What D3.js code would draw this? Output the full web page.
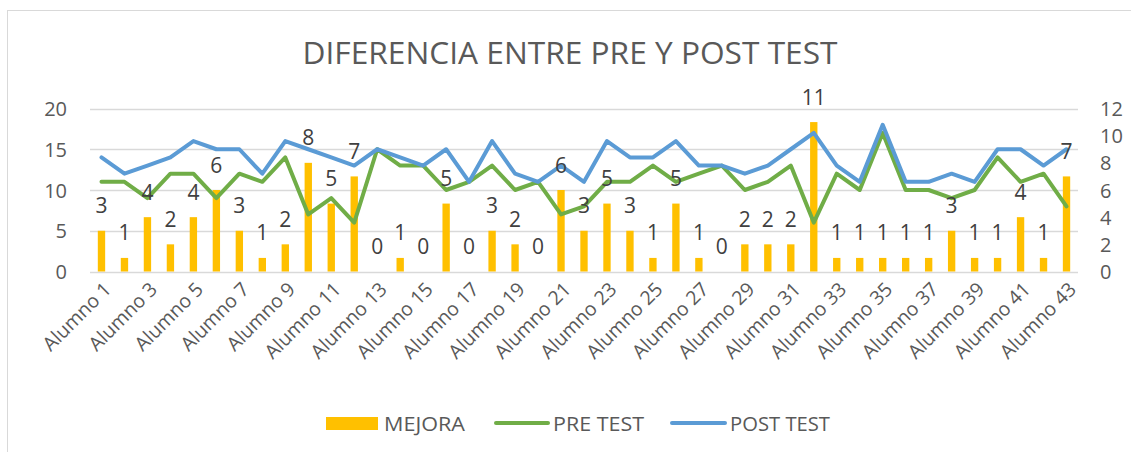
<!DOCTYPE html>
<html>
<head>
<meta charset="utf-8">
<script src="https://cdn.jsdelivr.net/npm/d3@7"></script>
<style>
  body { margin: 0; background: #fff; }
  text { font-family: "Open Sans", "Noto Sans", sans-serif; }
</style>
</head>
<body>
<div id="chart"></div>
<script>
// data
const alumnos = d3.range(1, 44).map(i => "Alumno " + i);
const mejora = [3,1,4,2,4,6,3,1,2,8,5,7,0,1,0,5,0,3,2,0,6,3,5,3,1,5,1,0,2,2,2,11,1,1,1,1,1,3,1,1,4,1,7];
const preTest = [11,11,9,12,12,9,12,11,14,7,9,6,15,13,13,10,11,13,10,11,7,8,11,11,13,11,12,13,10,11,13,6,12,10,17,10,10,9,10,14,11,12,8];
const postTest = [14,12,13,14,16,15,15,12,16,15,14,13,15,14,13,15,11,16,12,11,13,11,16,14,14,16,13,13,12,13,15,17,13,11,18,11,11,12,11,15,15,13,15];
const leftTicks = [0, 5, 10, 15, 20];
const rightTicks = [0, 2, 4, 6, 8, 10, 12];
const title = "DIFERENCIA ENTRE PRE Y POST TEST";

const W = 1131, H = 452;
const plot = { left: 90, right: 1078, top: 108.5, bottom: 271.5 };

const svg = d3.select("#chart").append("svg")
  .attr("width", W)
  .attr("height", H);

svg.append("rect").attr("width", W).attr("height", H).attr("fill", "#fff");

// outer chart border (only top and left visible)
svg.append("rect")
  .attr("x", 7.5).attr("y", 10.5)
  .attr("width", W + 20).attr("height", H + 20)
  .attr("fill", "none")
  .attr("stroke", "#d9d9d9");

// scales
const x = d3.scaleBand()
  .domain(alumnos)
  .range([plot.left, plot.right])
  .paddingInner(0.68)
  .paddingOuter(0.34);
const cx = d => x(d) + x.bandwidth() / 2;

const yL = d3.scaleLinear().domain([0, 20]).range([plot.bottom, plot.top]);
const yR = d3.scaleLinear().domain([0, 12]).range([plot.bottom, plot.top]);

// gridlines
svg.append("g")
  .selectAll("line")
  .data(leftTicks)
  .join("line")
  .attr("x1", plot.left).attr("x2", plot.right)
  .attr("y1", d => Math.round(yL(d)) + 0.5)
  .attr("y2", d => Math.round(yL(d)) + 0.5)
  .attr("stroke", "#d9d9d9")
  .attr("stroke-width", 1.3);

// left axis
const axL = svg.append("g")
  .attr("transform", `translate(${plot.left - 23},0)`)
  .call(d3.axisLeft(yL).tickValues(leftTicks).tickSize(0).tickPadding(0));
axL.select(".domain").remove();
axL.selectAll("text")
  .attr("fill", "#595959")
  .attr("font-size", 20)
  .attr("dy", "0.35em");

// right axis
const axR = svg.append("g")
  .attr("transform", `translate(${plot.right + 22},0)`)
  .call(d3.axisRight(yR).tickValues(rightTicks).tickSize(0).tickPadding(0));
axR.select(".domain").remove();
axR.selectAll("text")
  .attr("fill", "#595959")
  .attr("font-size", 20)
  .attr("dy", "0.35em");

// bottom category labels, every second one
const axB = svg.append("g")
  .attr("transform", `translate(0,${plot.bottom})`)
  .call(d3.axisBottom(x).tickValues(alumnos.filter((d, i) => i % 2 === 0)).tickSize(0).tickPadding(0));
axB.select(".domain").remove();
axB.selectAll("text")
  .attr("fill", "#595959")
  .attr("font-size", 19.5)
  .attr("text-anchor", "end")
  .attr("dy", 0)
  .attr("transform", "translate(11,19) rotate(-45)");

// bars
svg.append("g")
  .selectAll("rect")
  .data(mejora)
  .join("rect")
  .attr("x", (d, i) => x(alumnos[i]))
  .attr("width", x.bandwidth())
  .attr("y", d => yR(d))
  .attr("height", d => yR(0) - yR(d))
  .attr("fill", "#ffc000");

// lines
const line = d3.line()
  .x((d, i) => cx(alumnos[i]))
  .y(d => yL(d));

svg.append("path")
  .datum(preTest)
  .attr("fill", "none")
  .attr("stroke", "#70ad47")
  .attr("stroke-width", 4)
  .attr("stroke-linejoin", "round")
  .attr("stroke-linecap", "round")
  .attr("d", line);

svg.append("path")
  .datum(postTest)
  .attr("fill", "none")
  .attr("stroke", "#5b9bd5")
  .attr("stroke-width", 4)
  .attr("stroke-linejoin", "round")
  .attr("stroke-linecap", "round")
  .attr("d", line);

// bar value labels
svg.append("g")
  .selectAll("text")
  .data(mejora)
  .join("text")
  .attr("x", (d, i) => cx(alumnos[i]))
  .attr("y", d => yR(d) - 25)
  .attr("dy", "0.36em")
  .attr("text-anchor", "middle")
  .attr("font-size", 21)
  .attr("fill", "#404040")
  .text(d => d);

// title
svg.append("text")
  .attr("x", 570)
  .attr("y", 64)
  .attr("text-anchor", "middle")
  .attr("font-size", 31)
  .attr("fill", "#595959")
  .attr("textLength", 535)
  .attr("lengthAdjust", "spacingAndGlyphs")
  .text(title);

// legend
const lg = svg.append("g");
lg.append("rect")
  .attr("x", 326).attr("y", 417)
  .attr("width", 52).attr("height", 13)
  .attr("fill", "#ffc000");
lg.append("text")
  .attr("x", 384).attr("y", 423.5).attr("dy", "0.36em")
  .attr("font-size", 20).attr("fill", "#595959")
  .attr("textLength", 81).attr("lengthAdjust", "spacingAndGlyphs")
  .text("MEJORA");

lg.append("line")
  .attr("x1", 496).attr("x2", 548)
  .attr("y1", 423).attr("y2", 423)
  .attr("stroke", "#70ad47").attr("stroke-width", 4)
  .attr("stroke-linecap", "round");
lg.append("text")
  .attr("x", 553).attr("y", 423.5).attr("dy", "0.36em")
  .attr("font-size", 20).attr("fill", "#595959")
  .attr("textLength", 91).attr("lengthAdjust", "spacingAndGlyphs")
  .text("PRE TEST");

lg.append("line")
  .attr("x1", 672).attr("x2", 725)
  .attr("y1", 423).attr("y2", 423)
  .attr("stroke", "#5b9bd5").attr("stroke-width", 4)
  .attr("stroke-linecap", "round");
lg.append("text")
  .attr("x", 730).attr("y", 423.5).attr("dy", "0.36em")
  .attr("font-size", 20).attr("fill", "#595959")
  .attr("textLength", 100).attr("lengthAdjust", "spacingAndGlyphs")
  .text("POST TEST");
</script>
</body>
</html>
